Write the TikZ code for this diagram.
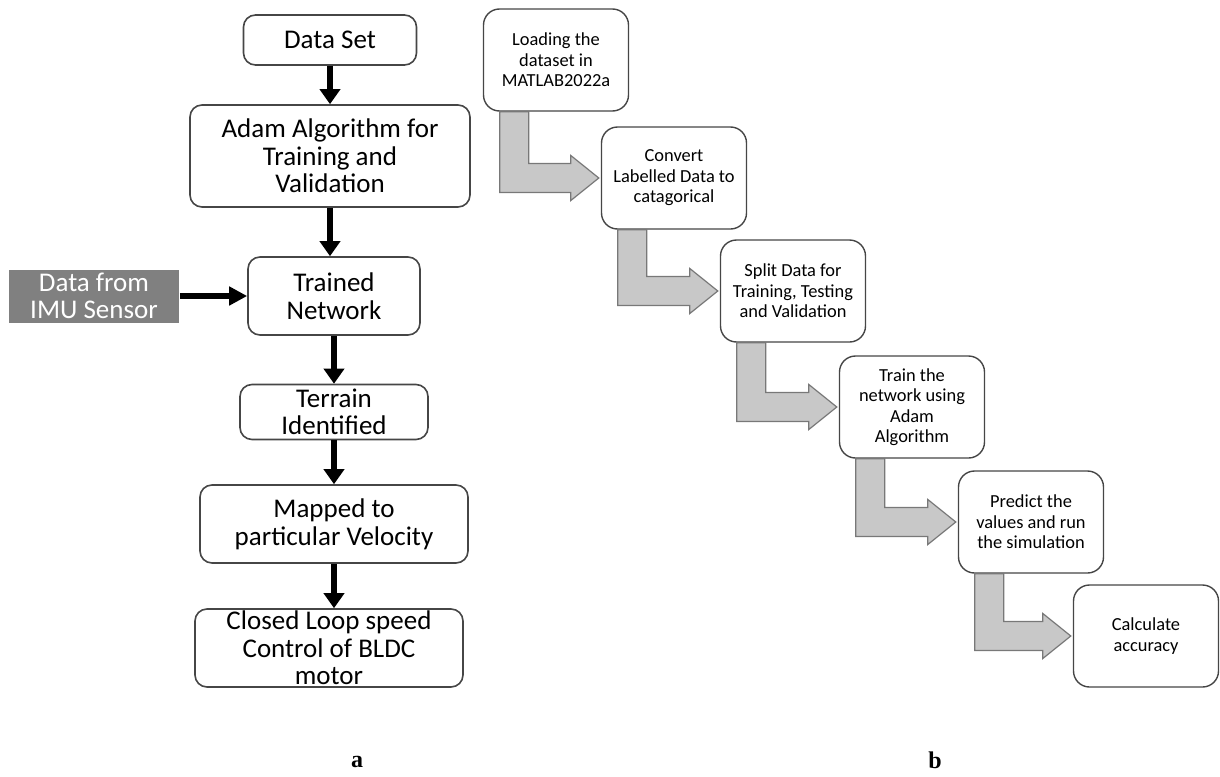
\documentclass[tikz,border=0pt]{standalone}
\usepackage{fontspec}
\setmainfont{Carlito}
\newfontfamily\capfont{Liberation Serif}
\usetikzlibrary{arrows.meta,calc,positioning}
\definecolor{sensor}{RGB}{128,128,128}
\definecolor{bendfill}{RGB}{200,200,200}
\definecolor{bendline}{RGB}{120,120,120}
\definecolor{rim}{RGB}{70,70,70}

\begin{document}
\begin{tikzpicture}[x=0.5pt,y=-0.5pt,
  box/.style={draw=rim,line width=0.8pt,rounded corners=6pt,fill=white,align=center,inner sep=0pt,font=\fontsize{13.5}{13.8}\selectfont},
  stage/.style={draw=rim,line width=0.7pt,rounded corners=8pt,fill=white,align=center,inner sep=0pt,minimum width=72.5pt,minimum height=51pt,font=\fontsize{9.2}{10.2}\selectfont},
  flow/.style={line width=3.3pt,-{Triangle[length=7.5pt,width=10pt]}},
  elbow/.style={fill=bendfill,draw=bendline,line width=0.6pt},
  tag/.style={font=\capfont\bfseries\fontsize{12}{14}\selectfont,inner sep=1pt}]
  \useasboundingbox (0,0) rectangle (1220,776);
  % part a
  \node[box,minimum width=86.5pt,minimum height=25pt] (dset) at (330,40) {Data Set};
  \node[box,minimum width=140pt,minimum height=51pt] (adam) at (330,156) {Adam Algorithm for\\Training and\\Validation};
  \node[box,minimum width=86pt,minimum height=39pt] (trained) at (334,296) {Trained\\Network};
  \node[box,minimum width=94pt,minimum height=27.5pt] (terrain) at (334,412) {Terrain\\Identified};
  \node[box,minimum width=134pt,minimum height=39pt] (mapped) at (334,524) {Mapped to\\particular Velocity};
  \node[box,minimum width=134pt,minimum height=39pt] (closed) at (329,648) {Closed Loop speed\\Control of BLDC\\motor};
  \node[box,rounded corners=0pt,draw=none,fill=sensor,text=white,minimum width=85pt,minimum height=26.5pt] (imu) at (94,296) {Data from\\IMU Sensor};
  \draw[flow] (dset) -- (adam);
  \draw[flow] (adam.south) -- (adam.south |- trained.north);
  \draw[flow] (trained) -- (terrain);
  \draw[flow] (terrain) -- (mapped);
  \draw[flow] (mapped.south) -- (mapped.south |- closed.north);
  \draw[line width=3pt,-{Triangle[length=9pt,width=9pt]}] (imu) -- (trained);
  % part b
  \foreach \k/\x/\y/\t in {1/556/60/{Loading the\\dataset in\\MATLAB2022a},
      2/674/178/{Convert\\Labelled Data to\\catagorical},
      3/793/291/{Split Data for\\Training, Testing\\and Validation},
      4/912/407/{Train the\\network using\\Adam\\Algorithm},
      5/1031/522/{Predict the\\values and run\\the simulation},
      6/1146/636/{Calculate\\accuracy}}
    \node[stage] (s\k) at (\x,\y) {\t};
  \foreach \k [evaluate=\k as \j using int(\k+1)] in {1,...,5}
    \draw[elbow] let \p1=(s\k.south west), \p2=(s\j.west) in
      (\x1+8.5pt,\y1) -- (\x1+8.5pt,\y2-7.25pt) -- (\x2-15pt,\y2-7.25pt) -- (\x2-15pt,\y2-11.25pt)
      -- (\x2-1pt,\y2) -- (\x2-15pt,\y2+11.25pt) -- (\x2-15pt,\y2+7.25pt) -- (\x1+23pt,\y2+7.25pt)
      -- (\x1+23pt,\y1) -- cycle;
  \node[tag] (capa) at (357,762) {a};
  \node[tag] (capb) at (935,760) {b};
\end{tikzpicture}
\end{document}
